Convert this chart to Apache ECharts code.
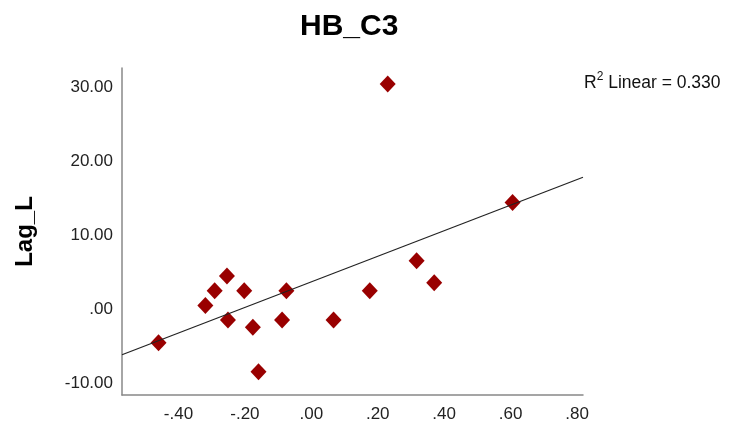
<!DOCTYPE html>
<html>
<head>
<meta charset="utf-8">
<title>HB_C3</title>
<script src="https://cdn.jsdelivr.net/npm/echarts@6/dist/echarts.min.js"></script>
<style>
    html, body { margin: 0; padding: 0; background: #fff; }
    #echartsId { width: 730px; height: 426px; }
</style>
</head>
<body>
<div id="echartsId"></div>
<script>
    // 散点数据 (x, Lag_L)
    var xValues = [-0.46, -0.319, -0.291, -0.254, -0.202, -0.251, -0.176, -0.159,
        -0.075, -0.088, 0.067, 0.230, 0.176, 0.317, 0.370, 0.606]
    var yValues = [-4.51, 0.49, 2.51, 4.5, 2.51, -1.45, -2.43, -8.43,
        2.51, -1.45, -1.45, 30.4, 2.51, 6.53, 3.59, 14.4]
    var titleText = 'HB_C3'
    var yName = 'Lag_L'
    var r2Text = '0.330'

    // 坐标轴范围
    var xMin = -0.57
    var xMax = 0.818
    var yMin = -11.58
    var yMax = 32.57

    var colors = ['#990000', '#222222', '#888888']

    // 线性拟合
    function linearFit (xs, ys) {
        var n = xs.length
        var mx = 0
        var my = 0
        for (var i = 0; i < n; i++) { mx += xs[i]; my += ys[i] }
        mx /= n
        my /= n
        var sxy = 0
        var sxx = 0
        for (var j = 0; j < n; j++) {
            sxy += (xs[j] - mx) * (ys[j] - my)
            sxx += (xs[j] - mx) * (xs[j] - mx)
        }
        var b = sxy / sxx
        return { a: my - b * mx, b: b }
    }
    var fit = linearFit(xValues, yValues)
    var fitLine = [[xMin, fit.a + fit.b * xMin], [xMax, fit.a + fit.b * xMax]]

    var points = xValues.map(function (x, i) {
        return [x, yValues[i]]
    })

    // SPSS 风格的标签 .00 / -.40
    function spssLabel (v) {
        var s = Math.abs(v).toFixed(2).replace(/^0/, '')
        return (v < 0 ? '-' : '') + s
    }

    var echartsId = echarts.init(document.getElementById('echartsId'), null, { renderer: 'canvas' })
    var options = {
        animation: false,
        backgroundColor: '#fff',
        grid: {
            left: 122,
            right: 147,
            top: 68,
            bottom: 31,
            containLabel: false
        },
        xAxis: {
            type: 'value',
            min: xMin,
            max: xMax,
            splitNumber: 7,
            splitLine: { show: false },
            axisTick: { show: false },
            axisLine: {
                onZero: false,
                lineStyle: { color: colors[2], width: 1.5 }
            },
            axisLabel: {
                showMinLabel: false,
                showMaxLabel: false,
                margin: 11,
                color: '#222',
                fontSize: 17,
                fontFamily: 'Liberation Sans',
                formatter: spssLabel
            }
        },
        yAxis: {
            type: 'value',
            min: yMin,
            max: yMax,
            splitNumber: 5,
            name: yName,
            nameLocation: 'middle',
            nameGap: 85,
            nameRotate: 90,
            nameTextStyle: {
                color: '#000',
                fontSize: 24,
                fontWeight: 'bold',
                fontFamily: 'Liberation Sans'
            },
            splitLine: { show: false },
            axisTick: { show: false },
            axisLine: {
                onZero: false,
                lineStyle: { color: colors[2], width: 1.5 }
            },
            axisLabel: {
                showMinLabel: false,
                showMaxLabel: false,
                margin: 9,
                color: '#222',
                fontSize: 17,
                fontFamily: 'Liberation Sans',
                formatter: spssLabel
            }
        },
        graphic: [{
            type: 'text',
            left: 300,
            top: 12,
            style: {
                text: titleText,
                fill: '#000',
                font: 'bold 30px "Liberation Sans"'
            }
        }, {
            type: 'text',
            left: 584,
            top: 71,
            style: {
                text: '{r|R}{sup|2}{t| Linear = ' + r2Text + '}',
                rich: {
                    r: { fontSize: 17.5, fontFamily: 'Liberation Sans', fill: '#111', verticalAlign: 'bottom' },
                    sup: { fontSize: 12, fontFamily: 'Liberation Sans', fill: '#111', verticalAlign: 'top', padding: [0, 0, 9, 0] },
                    t: { fontSize: 17.5, fontFamily: 'Liberation Sans', fill: '#111', verticalAlign: 'bottom' }
                }
            }
        }],
        series: [{
            name: 'fit',
            type: 'line',
            data: fitLine,
            symbol: 'none',
            silent: true,
            z: 3,
            lineStyle: { color: colors[1], width: 1.2 }
        }, {
            name: 'Lag_L',
            type: 'scatter',
            data: points,
            symbol: 'diamond',
            symbolSize: [16, 17],
            z: 2,
            itemStyle: { color: colors[0], opacity: 1 }
        }]
    }
    echartsId.setOption(options)
</script>
</body>
</html>
